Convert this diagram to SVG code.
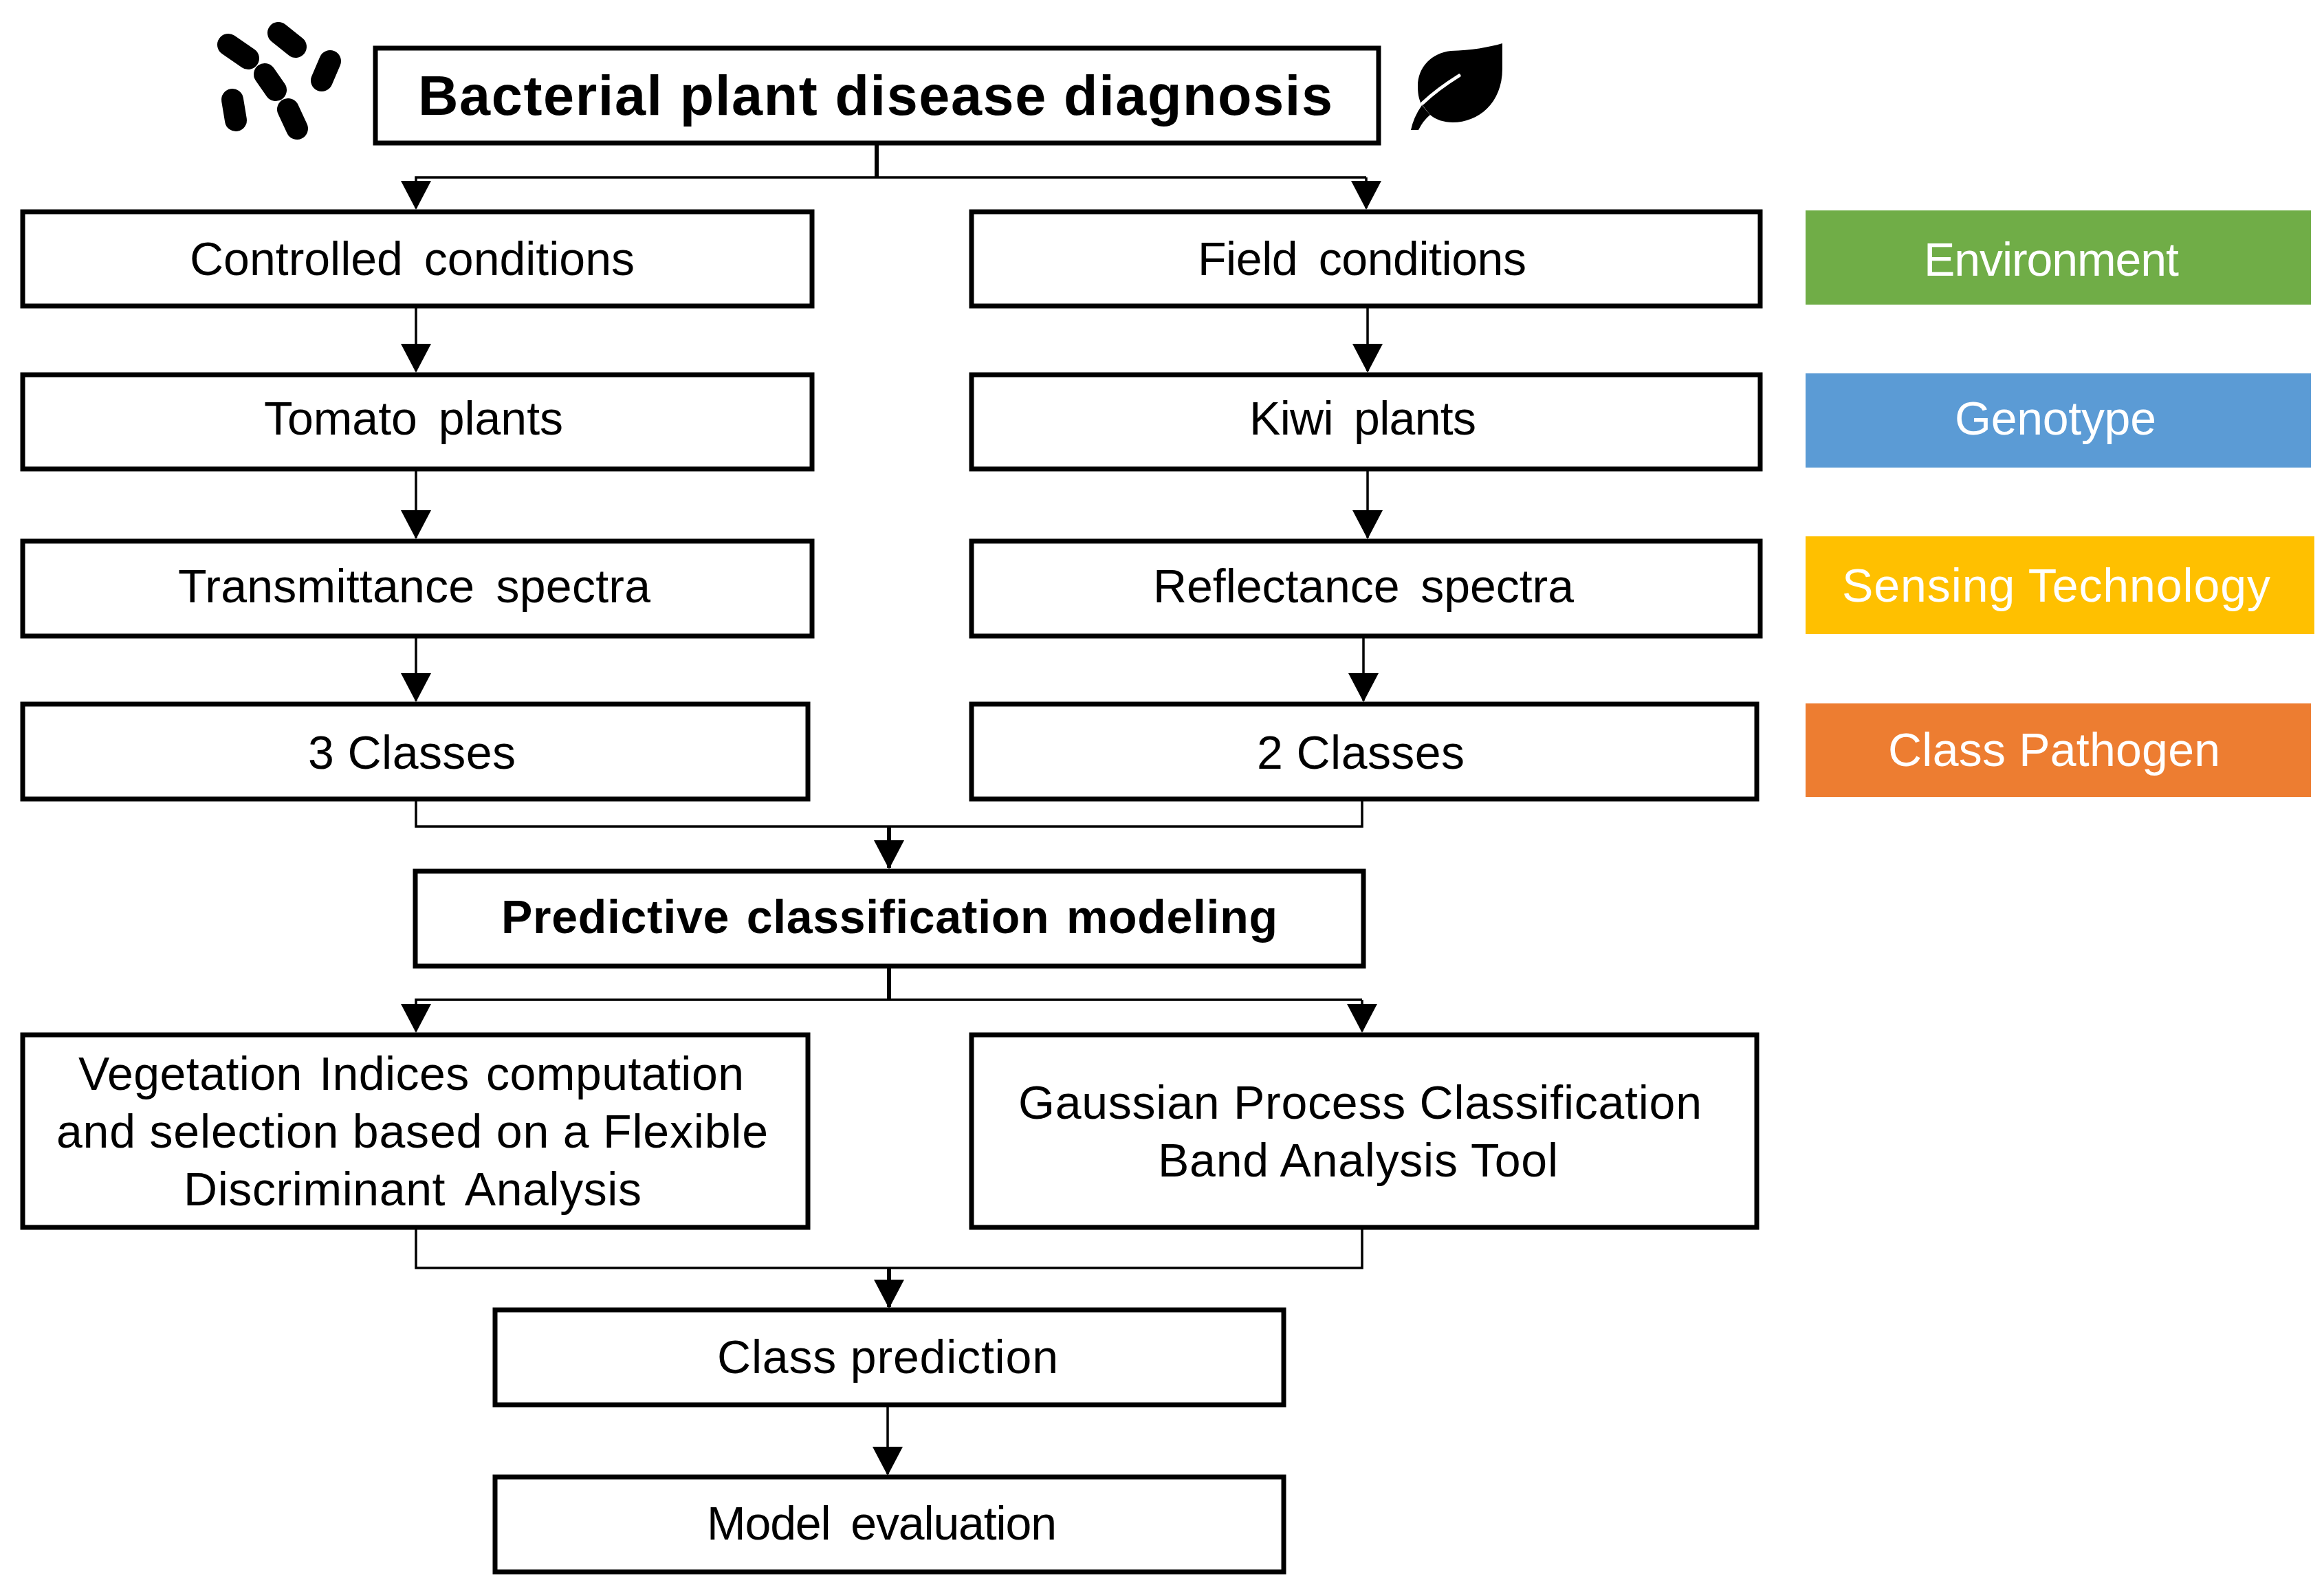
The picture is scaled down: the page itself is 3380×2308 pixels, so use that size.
<svg xmlns="http://www.w3.org/2000/svg" width="3380" height="2308" viewBox="0 0 3380 2308">
<defs>
<style>
.bx{fill:#fff;stroke:#000;stroke-width:7}
.t{font-family:"Liberation Sans",Arial,sans-serif;font-size:68px;fill:#000;word-spacing:12px}
.s{word-spacing:0}
.m{word-spacing:5px}
.b{font-weight:700}
.w{fill:#fff}
.c{fill:none;stroke:#000;stroke-width:3.5}
.k{fill:none;stroke:#000;stroke-width:6}
.bac{fill:none;stroke:#000;stroke-width:32;stroke-linecap:round}
</style>
<marker id="ah" markerUnits="userSpaceOnUse" markerWidth="44" markerHeight="44" refX="40" refY="22" orient="auto"><path d="M0,0L42,22L0,44Z" fill="#000"/></marker>
</defs>
<rect width="3380" height="2308" fill="#fff"/>
<g id="connectors">
<path class="k" d="M1275,208V258"/>
<path class="c" d="M1987,258H605V303" marker-end="url(#ah)"/>
<path class="c" d="M1987,258V303" marker-end="url(#ah)"/>
<path class="c" d="M605,445V540" marker-end="url(#ah)"/>
<path class="c" d="M605,682V782" marker-end="url(#ah)"/>
<path class="c" d="M605,925V1019" marker-end="url(#ah)"/>
<path class="c" d="M1989,445V540" marker-end="url(#ah)"/>
<path class="c" d="M1989,682V782" marker-end="url(#ah)"/>
<path class="c" d="M1983,925V1019" marker-end="url(#ah)"/>
<path class="c" d="M605,1162V1202H1981V1162"/>
<path class="k" d="M1293,1202V1262" marker-end="url(#ah)"/>
<path class="k" d="M1293,1404V1454"/>
<path class="c" d="M1981,1454H605V1500" marker-end="url(#ah)"/>
<path class="c" d="M1981,1454V1500" marker-end="url(#ah)"/>
<path class="c" d="M605,1785V1844H1981V1785"/>
<path class="k" d="M1293,1844V1901" marker-end="url(#ah)"/>
<path class="c" d="M1291,2043V2144" marker-end="url(#ah)"/>
</g>
<g id="icon-bacteria">
<path class="bac" d="M332,65L361,85M405,48L430,68M480,89L468,117M385,108L401,131M338,145L343,175M419,159L432,187"/>
</g>
<g id="icon-leaf">
<path d="M2185,63C2165,69 2140,73 2110,74C2082,77 2062,98 2062,125C2062,134 2063,143 2067,151L2080,167C2088,174 2100,178 2113,178C2150,178 2185,150 2185,100Z" fill="#000"/>
<path d="M2122,110Q2090,130 2069,150" fill="none" stroke="#fff" stroke-width="5" stroke-linecap="round"/>
<path d="M2068,153Q2056,170 2052,189L2063,189Q2070,175 2080,167Z" fill="#000"/>
</g>
<g id="n-title"><rect class="bx" x="546" y="70" width="1459" height="138"/><text class="t b s" x="608" y="167" style="font-size:81px" textLength="1330">Bacterial plant disease diagnosis</text></g>
<g id="n-controlled"><rect class="bx" x="33" y="308" width="1148" height="137"/><text class="t" x="276" y="400" textLength="647">Controlled conditions</text></g>
<g id="n-field"><rect class="bx" x="1413" y="308" width="1147" height="137"/><text class="t" x="1742" y="400" textLength="478">Field conditions</text></g>
<g id="n-tomato"><rect class="bx" x="33" y="545" width="1148" height="137"/><text class="t" x="384" y="632" textLength="435">Tomato plants</text></g>
<g id="n-kiwi"><rect class="bx" x="1413" y="545" width="1147" height="137"/><text class="t" x="1817" y="632" textLength="330">Kiwi plants</text></g>
<g id="n-trans"><rect class="bx" x="33" y="787" width="1148" height="138"/><text class="t" x="259" y="876" textLength="687">Transmittance spectra</text></g>
<g id="n-refl"><rect class="bx" x="1413" y="787" width="1147" height="138"/><text class="t" x="1677" y="876" textLength="612">Reflectance spectra</text></g>
<g id="n-3c"><rect class="bx" x="33" y="1024" width="1142" height="138"/><text class="t s" x="448" y="1118" textLength="302">3 Classes</text></g>
<g id="n-2c"><rect class="bx" x="1413" y="1024" width="1142" height="138"/><text class="t s" x="1828" y="1118" textLength="302">2 Classes</text></g>
<g id="n-pred"><rect class="bx" x="604" y="1267" width="1379" height="138"/><text class="t b m" x="729" y="1357" textLength="1129">Predictive classification modeling</text></g>
<g id="n-vi"><rect class="bx" x="33" y="1505" width="1142" height="280"/><text class="t m" x="114" y="1585" textLength="968">Vegetation Indices computation</text><text class="t s" x="82" y="1669" textLength="1035">and selection based on a Flexible</text><text class="t" x="267" y="1753" textLength="666">Discriminant Analysis</text></g>
<g id="n-gp"><rect class="bx" x="1413" y="1505" width="1142" height="280"/><text class="t s" x="1481" y="1627" textLength="994">Gaussian Process Classification</text><text class="t s" x="1684" y="1711" textLength="582">Band Analysis Tool</text></g>
<g id="n-cp"><rect class="bx" x="720" y="1905" width="1147" height="138"/><text class="t s" x="1043" y="1997" textLength="496">Class prediction</text></g>
<g id="n-me"><rect class="bx" x="720" y="2148" width="1147" height="138"/><text class="t" x="1028" y="2239" textLength="509">Model evaluation</text></g>
<g id="legend-env"><rect x="2626" y="306" width="735" height="137" fill="#70AD47"/><text class="t w" x="2798" y="401" textLength="371">Environment</text></g>
<g id="legend-gen"><rect x="2626" y="543" width="735" height="137" fill="#5B9BD5"/><text class="t w" x="2843" y="632" textLength="293">Genotype</text></g>
<g id="legend-sens"><rect x="2626" y="780" width="740" height="142" fill="#FFC000"/><text class="t w s" x="2679" y="875" textLength="623">Sensing Technology</text></g>
<g id="legend-path"><rect x="2626" y="1023" width="735" height="136" fill="#ED7D31"/><text class="t w s" x="2746" y="1114" textLength="483">Class Pathogen</text></g>
</svg>
